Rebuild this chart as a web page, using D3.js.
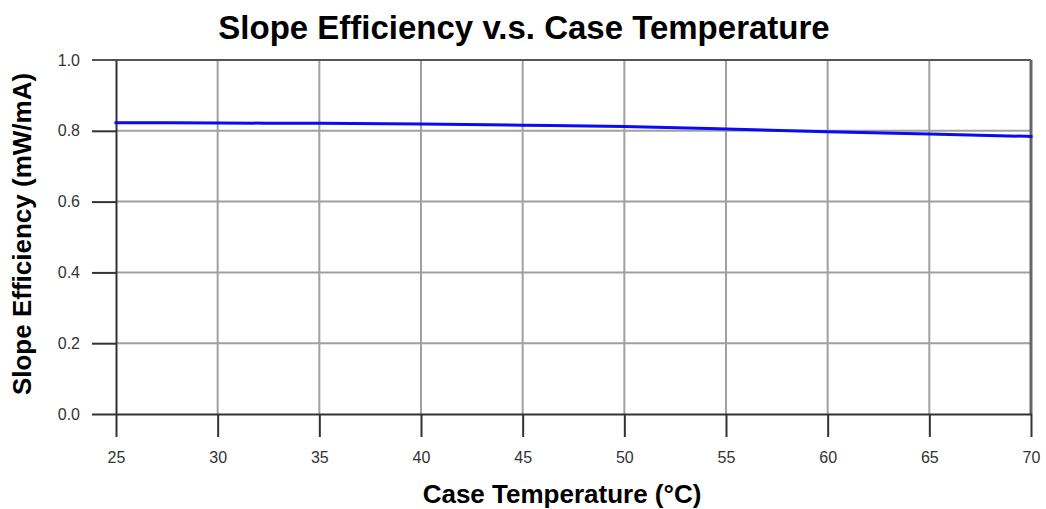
<!DOCTYPE html>
<html>
<head>
<meta charset="utf-8">
<script src="https://cdn.jsdelivr.net/npm/d3@7/dist/d3.min.js"></script>
<style>
  body { margin: 0; background: #fff; }
  text { font-family: "Liberation Sans", Arial, sans-serif; }
</style>
</head>
<body>
<div id="vis"></div>
<script>
// data
const temps = [25, 30, 35, 40, 45, 50, 55, 60, 65, 70];
const slope = [0.823, 0.822, 0.821, 0.819, 0.816, 0.812, 0.805, 0.797, 0.791, 0.784];
const xTicks = [25, 30, 35, 40, 45, 50, 55, 60, 65, 70];
const yTicks = [0, 0.2, 0.4, 0.6, 0.8, 1.0];

const width = 1046, height = 509;
const plotL = 116, plotR = 1031, plotT = 60, plotB = 414;

const x = d3.scaleLinear().domain([25, 70]).range([plotL, plotR]);
const y = d3.scaleLinear().domain([0, 1]).range([plotB, plotT]);

const svg = d3.select("#vis").append("svg")
  .attr("width", width)
  .attr("height", height);

// grid
svg.append("g")
  .selectAll("line")
  .data(xTicks.slice(1, -1))
  .join("line")
    .attr("x1", d => x(d)).attr("x2", d => x(d))
    .attr("y1", plotT).attr("y2", plotB)
    .attr("stroke", "#a0a0a0")
    .attr("stroke-width", 2);

svg.append("g")
  .selectAll("line")
  .data(yTicks.slice(1, -1))
  .join("line")
    .attr("x1", plotL).attr("x2", plotR)
    .attr("y1", d => y(d)).attr("y2", d => y(d))
    .attr("stroke", "#a0a0a0")
    .attr("stroke-width", 2);

// top and right frame
svg.append("line")
  .attr("x1", 92).attr("x2", plotR)
  .attr("y1", plotT).attr("y2", plotT)
  .attr("stroke", "#555").attr("stroke-width", 2);
svg.append("line")
  .attr("x1", plotR).attr("x2", plotR)
  .attr("y1", plotT).attr("y2", plotB)
  .attr("stroke", "#666").attr("stroke-width", 3);

// axes
const xAxis = d3.axisBottom(x).tickValues(xTicks).tickSize(23).tickPadding(15).tickSizeOuter(0);
const yAxis = d3.axisLeft(y).tickValues(yTicks).tickSize(24).tickPadding(12)
  .tickFormat(d3.format(".1f")).tickSizeOuter(0);

const gx = svg.append("g")
  .attr("transform", `translate(0,${plotB})`)
  .call(xAxis);
const gy = svg.append("g")
  .attr("transform", `translate(${plotL},0)`)
  .call(yAxis);

[gx, gy].forEach(g => {
  g.select(".domain").attr("stroke", "#333").attr("stroke-width", 2);
  g.selectAll(".tick line").attr("stroke", "#333").attr("stroke-width", 2);
  g.selectAll(".tick text")
    .attr("fill", "#333")
    .style("font-size", "16px")
    .style("font-family", "'Liberation Sans', Arial, sans-serif");
});
gy.select(".tick:last-of-type line").remove();

// series
const line = d3.line()
  .x((d, i) => x(temps[i]))
  .y(d => y(d))
  .curve(d3.curveMonotoneX);

svg.append("path")
  .datum(slope)
  .attr("fill", "none")
  .attr("stroke", "#0a0af5")
  .attr("stroke-width", 3)
  .attr("stroke-linecap", "square")
  .attr("d", line);

// titles
svg.append("text")
  .attr("x", 524).attr("y", 39)
  .attr("text-anchor", "middle")
  .style("font-size", "33px").style("font-weight", "bold")
  .text("Slope Efficiency v.s. Case Temperature");

svg.append("text")
  .attr("x", 562).attr("y", 503)
  .attr("text-anchor", "middle")
  .style("font-size", "26px").style("font-weight", "bold")
  .text("Case Temperature (°C)");

svg.append("text")
  .attr("transform", "translate(31,234) rotate(-90)")
  .attr("text-anchor", "middle")
  .style("font-size", "26px").style("font-weight", "bold")
  .text("Slope Efficiency (mW/mA)");
</script>
</body>
</html>
